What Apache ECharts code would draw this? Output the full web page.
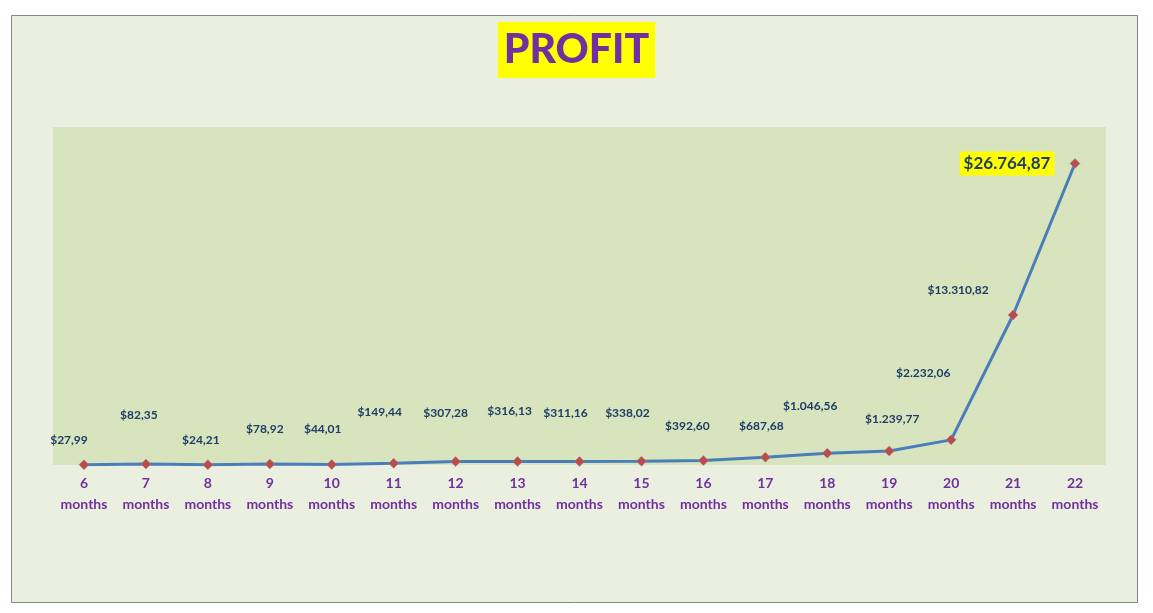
<!DOCTYPE html>
<html>
<head>
<meta charset="utf-8">
<script src="https://cdn.jsdelivr.net/npm/echarts@6/dist/echarts.min.js"></script>
<style>
html,body{margin:0;padding:0;background:#ffffff;}
#chart{width:1153px;height:613px;}
</style>
</head>
<body>
<div id="chart"></div>
<script>
const categories = ["6 months","7 months","8 months","9 months","10 months","11 months","12 months","13 months","14 months","15 months","16 months","17 months","18 months","19 months","20 months","21 months","22 months"];
const profit = [27.99, 82.35, 24.21, 78.92, 44.01, 149.44, 307.28, 316.13, 311.16, 338.02, 392.60, 687.68, 1046.56, 1239.77, 2232.06, 13310.82, 26764.87];
// label placement offsets (pixels from each marker), as in the reference
const labelOffsets = [[-15,-25],[-7,-49],[-7,-25],[-5,-35],[-9,-35],[-14,-51],[-10,-48],[-8,-50],[-14,-48],[-14,-48],[-16,-34],[-4,-31],[-17,-47],[3,-32],[-28,-67],[-55,-25],[-68,0]];

function fmt(v){
  const parts = v.toFixed(2).split('.');
  const intPart = parts[0].replace(/\B(?=(\d{3})+(?!\d))/g, '.');
  return '$' + intPart + ',' + parts[1];
}

const lastIdx = profit.length - 1;
const seriesData = profit.map((v, i) => {
  const item = { value: v, label: { offset: labelOffsets[i] } };
  if (i === lastIdx) {
    item.label = {
      offset: labelOffsets[i],
      fontSize: 17,
      backgroundColor: '#FFFF00',
      padding: [4, 4, 3, 4]
    };
  }
  return item;
});

const chart = echarts.init(document.getElementById('chart'));
chart.setOption({
  animation: false,
  backgroundColor: 'transparent',
  graphic: [{
    type: 'rect',
    z: -10,
    shape: { x: 11.5, y: 15.5, width: 1126, height: 587 },
    style: { fill: '#EBEFDF', stroke: '#868686', lineWidth: 1 }
  }],
  title: {
    text: 'PROFIT',
    left: 'center',
    top: 22,
    backgroundColor: '#FFFF00',
    padding: [6, 6, 6, 6],
    textStyle: { fontFamily: 'Lato', fontSize: 41, fontWeight: 900, color: '#7030A0', lineHeight: 44 }
  },
  grid: {
    left: 53, right: 47, top: 127, bottom: 148,
    show: true, backgroundColor: '#D7E4BD', borderWidth: 0
  },
  xAxis: {
    type: 'category',
    data: categories,
    boundaryGap: true,
    axisLine: { show: false },
    axisTick: { show: false },
    axisLabel: {
      margin: 8,
      interval: 0,
      fontFamily: 'Lato',
      fontSize: 14,
      fontWeight: 'bold',
      color: '#7030A0',
      lineHeight: 21,
      formatter: v => v.replace(' ', '\n')
    }
  },
  yAxis: {
    type: 'value',
    min: 0, max: 30000,
    show: false,
    splitLine: { show: false }
  },
  series: [{
    type: 'line',
    data: seriesData,
    symbol: 'diamond',
    symbolSize: 10,
    lineStyle: { color: '#4A7EBB', width: 3 },
    itemStyle: { color: '#BE4B48', borderColor: '#8A8FB0', borderWidth: 0.5 },
    label: {
      show: true,
      position: 'inside',
      fontFamily: 'Lato',
      fontSize: 12,
      fontWeight: 'bold',
      color: '#1F3D66',
      formatter: p => fmt(p.value)
    }
  }]
});
</script>
</body>
</html>
